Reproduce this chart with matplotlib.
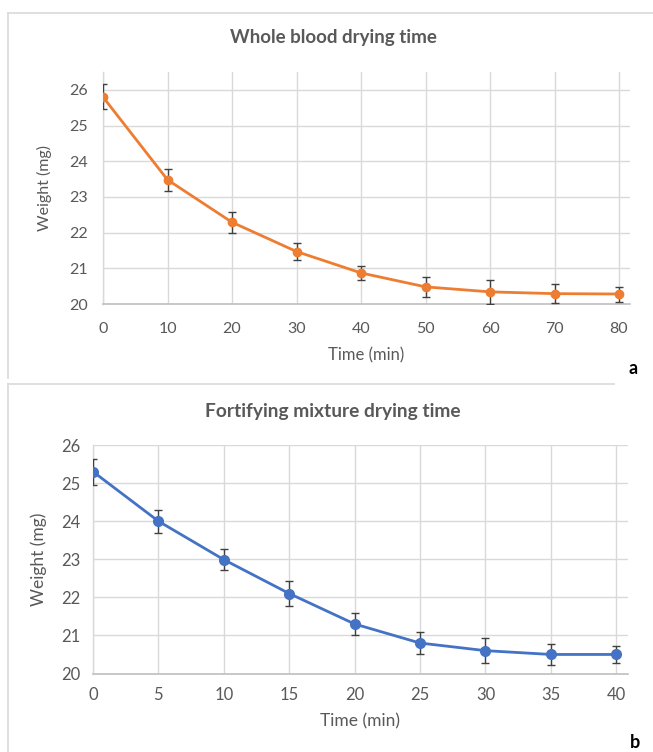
import matplotlib
matplotlib.use("Agg")
import matplotlib.pyplot as plt
from matplotlib.lines import Line2D

# Panel a data
time_a = [0, 10, 20, 30, 40, 50, 60, 70, 80]
weight_a = [25.8, 23.48, 22.29, 21.47, 20.87, 20.48, 20.34, 20.29, 20.28]
err_a = [0.35, 0.31, 0.29, 0.25, 0.20, 0.28, 0.33, 0.27, 0.21]
xticks_a = [0, 10, 20, 30, 40, 50, 60, 70, 80]

# Panel b data
time_b = [0, 5, 10, 15, 20, 25, 30, 35, 40]
weight_b = [25.3, 24.0, 22.99, 22.1, 21.3, 20.8, 20.6, 20.5, 20.5]
err_b = [0.34, 0.30, 0.28, 0.33, 0.29, 0.28, 0.32, 0.27, 0.23]
xticks_b = [0, 5, 10, 15, 20, 25, 30, 35, 40]

yticks = [20, 21, 22, 23, 24, 25, 26]

W, H = 653, 752
fig = plt.figure(figsize=(W / 100, H / 100), dpi=100)
plt.rcParams['font.family'] = ['Lato', 'DejaVu Sans']

GRID = '#d9d9d9'
TXT = '#595959'


def ax_rect(l, r, t, b):
    return [l / W, 1 - b / H, (r - l) / W, (b - t) / H]


def style(ax, xticks, xlim, ylim, fs, xpad, ypad):
    ax.set_xlim(*xlim)
    ax.set_ylim(*ylim)
    ax.set_xticks(xticks)
    ax.set_yticks(yticks)
    ax.grid(True, color=GRID, linewidth=1.0)
    ax.set_axisbelow(True)
    for s in ['top', 'right']:
        ax.spines[s].set_visible(False)
    ax.spines['left'].set_color(GRID)
    ax.spines['bottom'].set_color('#bfbfbf')
    ax.spines['left'].set_linewidth(1.0)
    ax.spines['bottom'].set_linewidth(1.2)
    ax.tick_params(length=0, labelcolor=TXT, labelsize=fs)
    ax.tick_params(axis='x', pad=xpad)
    ax.tick_params(axis='y', pad=ypad)


# Panel a
ax1 = fig.add_axes(ax_rect(103, 630, 72, 304))
style(ax1, xticks_a, (0, 81.7), (20, 26.5), 11.5, 13, 11)
ax1.errorbar(time_a, weight_a, yerr=err_a, color='#ED7D31', lw=2.0,
             marker='o', ms=6, ecolor='#404040', elinewidth=1.0,
             capsize=3, capthick=1.0, zorder=3)
ax1.set_xlabel('Time (min)', color=TXT, fontsize=12, labelpad=8)
ax1.set_ylabel('Weight (mg)', color=TXT, fontsize=11.5, labelpad=12)
fig.text(333 / W, 1 - 38 / H, 'Whole blood drying time', ha='center', va='center',
         fontsize=13.5, fontweight='bold', color=TXT)
fig.text(633 / W, 1 - 369 / H, 'a', ha='center', va='center',
         fontsize=13, fontweight='bold', color='black')

# Panel b
ax2 = fig.add_axes(ax_rect(93, 628, 445, 673.5))
style(ax2, xticks_b, (0, 40.9), (20, 26), 12, 10, 9)
ax2.errorbar(time_b, weight_b, yerr=err_b, color='#4472C4', lw=2.0,
             marker='o', ms=7, ecolor='#404040', elinewidth=1.0,
             capsize=3, capthick=1.0, zorder=3)
ax2.set_xlabel('Time (min)', color=TXT, fontsize=12.5, labelpad=7)
ax2.set_ylabel('Weight (mg)', color=TXT, fontsize=12.5, labelpad=10)
fig.text(333 / W, 1 - 412 / H, 'Fortifying mixture drying time', ha='center', va='center',
         fontsize=13.8, fontweight='bold', color=TXT)
fig.text(635 / W, 1 - 743 / H, 'b', ha='center', va='center',
         fontsize=13, fontweight='bold', color='black')

# Panel borders
def fl(x0, y0, x1, y1):
    fig.add_artist(Line2D([x0 / W, x1 / W], [1 - y0 / H, 1 - y1 / H],
                          color=GRID, lw=1.2, transform=fig.transFigure))

fl(8, 13, 653, 13)
fl(8, 13, 8, 378)
fl(8, 384, 614, 384)
fl(8, 384, 8, 752)

fig.savefig('out.png', dpi=100, facecolor='white')
